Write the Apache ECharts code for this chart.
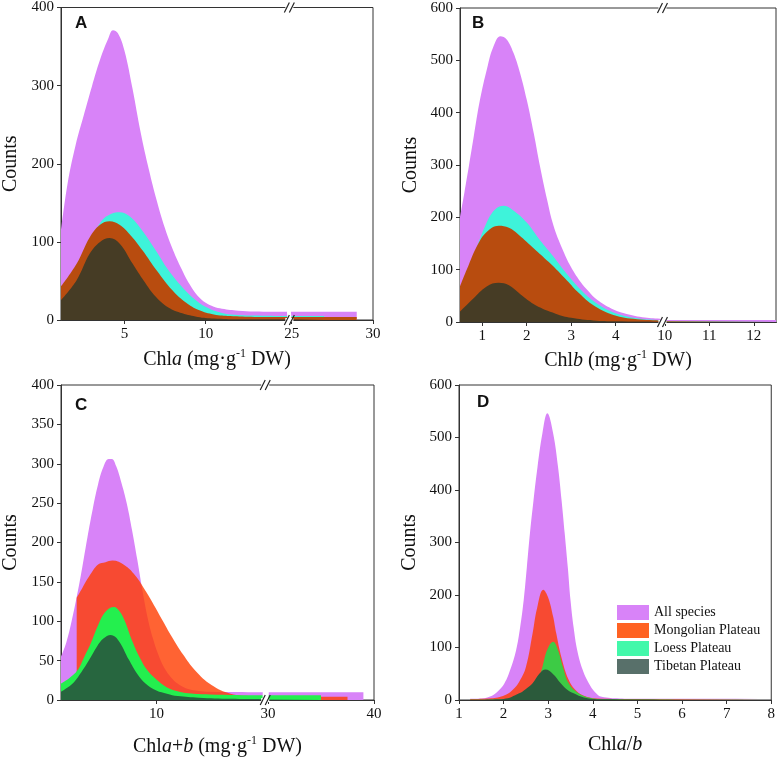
<!DOCTYPE html>
<html><head><meta charset="utf-8">
<script src="https://cdn.jsdelivr.net/npm/echarts@6/dist/echarts.min.js"></script>
<style>html,body{margin:0;padding:0;background:#fff}#c{width:778px;height:759px}</style>
</head><body><div id="c"></div>
<script>
// ---------- DATA: [x, count] ----------
const seriesNames = ['All species', 'Mongolian Plateau', 'Loess Plateau', 'Tibetan Plateau'];

// Panel A  (Chl a)
const aAll   = [[1.1,115],[1.5,174],[2.0,224],[2.5,262],[3.0,299],[3.5,333],[4.0,360],[4.3,371],[4.6,367],[5.0,345],[5.5,296],[6.0,240],[6.5,193],[7.0,152],[7.5,117],[8.0,89],[8.5,66],[9.0,46],[9.5,31],[10,22],[10.5,17],[11,14.5],[12,12],[13,11],[15,10.5],[25,10.5],[29,10.5]];
const aLoess = [[1.1,36],[2.0,66],[2.9,100],[3.6,127],[4.2,136],[4.7,138],[5.3,133],[6.0,117],[6.93,89],[7.7,64],[8.56,42],[9.3,27],[9.98,17],[11,9],[12,6.5],[14,5.5],[15,5],[25,5],[27,5]];
const aMong  = [[1.1,43],[2.06,72],[2.87,106],[3.5,122],[4.09,126.5],[4.7,122],[5.4,108],[6.12,89],[7.0,63],[7.95,38],[8.8,22],[9.57,12.7],[10.5,7],[11.5,5],[13,4],[15,4],[25,4],[29,4]];
const aTib   = [[1.1,25.5],[2.06,51],[2.87,85],[3.5,100],[4.09,105],[4.7,98],[5.51,72],[6.2,50],[6.93,29.7],[7.7,16],[8.56,8.5],[9.5,4],[10.5,2],[12,1],[15,1],[25,1],[27,1]];

// Panel B  (Chl b)
const bAll   = [[0.5,200],[0.6,248],[0.7,298],[0.81,355],[0.95,425],[1.11,485],[1.25,526],[1.41,546],[1.55,540],[1.7,515],[1.85,476],[2.0,425],[2.16,360],[2.3,297],[2.46,233],[2.6,185],[2.8,140],[2.99,106],[3.2,78],[3.4,58],[3.59,42],[3.9,26],[4.19,16.6],[4.6,9],[5,6],[10,4],[12.5,4]];
const bLoess = [[0.5,62],[0.8,125],[1.1,190],[1.3,216],[1.49,222],[1.7,213],[2.0,190],[2.3,156],[2.6,125],[2.9,92],[3.2,63],[3.5,40],[3.9,20],[4.4,8],[5,3],[10,2],[12.5,2]];
const bMong  = [[0.5,68],[0.7,110],[0.9,148],[1.1,172],[1.37,184],[1.6,180],[1.8,168],[2.1,145],[2.4,122],[2.58,108],[2.9,80],[3.18,55],[3.5,32],[3.9,15],[4.4,6],[5,2.5],[10,1.5],[12.5,1.5]];
const bTib   = [[0.5,20],[0.8,45],[1.1,68],[1.37,75],[1.6,70],[1.9,50],[2.2,32],[2.65,16],[3.0,8],[3.5,3],[4,1.5],[5,0.5],[10,0],[12.5,0]];

// Panel C  (Chl a+b)
const cAll   = [[1,55],[1.5,73],[2,100],[2.5,132],[3,168],[3.5,207],[4,243],[4.5,274],[5,296],[5.5,306],[5.8,306],[6.2,297],[6.7,276],[7.2,250],[7.7,216],[8.2,178],[8.7,138],[9.2,103],[9.7,77],[10.2,57],[10.7,42],[11.5,27],[12.2,19],[13,14],[14,11.5],[15,10.5],[20,10],[30,10],[39,10]];
const cMong  = [[2.48,130],[3,142],[3.66,157],[4.5,172],[5.2,175],[5.85,177],[7,171],[8,158],[9,138],[10.5,103],[11.47,80],[12.5,58],[13.66,37.5],[15.2,19],[17,8],[19,5],[20,4.5],[30,4],[37.5,4]];
const cLoess = [[1,21],[1.8,28],[2.57,38],[3.2,55],[3.81,72],[4.5,95],[5.2,112],[6.0,118],[6.5,113],[7,101],[7.72,75],[8.5,52],[9.13,38],[10,26],[11,16],[12,11],[13,8.5],[15,7],[20,6],[30,6],[35,6]];
const cTib   = [[1,10.6],[2.1,21],[2.9,35],[3.66,51],[4.4,68],[5.0,78],[5.69,82.5],[6.4,76],[7.41,51],[8.2,33],[8.97,21],[10,12],[11,8],[12,5],[14,3],[17,1.5],[20,1],[30,0.5],[35,0.5]];

// Panel D  (Chl a/b)
const dAll   = [[1.25,2.5],[1.5,3],[1.68,6],[1.85,15],[2.02,32],[2.15,58],[2.28,95],[2.37,138],[2.45,190],[2.52,252],[2.59,317],[2.67,380],[2.76,444],[2.87,508],[2.98,546],[3.11,508],[3.22,444],[3.3,380],[3.37,317],[3.44,252],[3.5,190],[3.57,138],[3.65,95],[3.77,58],[3.91,32],[4.05,15],[4.2,6],[4.6,3],[5,2.5],[7.75,2.5]];
const dMong  = [[1.25,2],[1.8,4],[2.05,10],[2.2,19],[2.35,35],[2.5,63],[2.65,127],[2.75,175],[2.89,210],[3.0,195],[3.11,159],[3.18,127],[3.3,80],[3.45,40],[3.6,20],[3.8,8],[4.1,3],[5,2],[7.75,2]];
const dLoess = [[1.25,0.5],[2.2,2],[2.5,8],[2.65,18],[2.76,32],[2.87,63],[2.98,96],[3.11,111],[3.22,95],[3.33,63],[3.46,32],[3.68,12.7],[3.9,5],[4.3,1.5],[7.75,0.5]];
const dTib   = [[1.25,0.5],[2.0,2],[2.35,12.7],[2.5,21],[2.65,32],[2.8,50],[2.94,58],[3.1,50],[3.28,32],[3.42,20],[3.57,12.7],[3.8,5],[4.2,1.5],[7.75,0.3]];

// tick labels
const aTicks = [5, 10, 25, 30];
const bTicks = [1, 2, 3, 4, 10, 11, 12];
const cTicks = [10, 30, 40];
const yMaxes = [400, 600, 400, 600];
const yIntervals = [100, 100, 50, 100];
const panelLetters = ['A', 'B', 'C', 'D'];

// ---------- STYLE ----------
const FONT = 'Liberation Serif';
const PURPLE = '#d883f8';
const colAB = {loess:'#3ef3da', mong:'#b84c0f', tib:'#463c25'};
const colC  = {loess:'#24ef4e', mong:'#ff3c00', tib:'#27663f'};
const colD  = {loess:'#3dcb45', mong:'#ff3c00', tib:'#2b5a3b'};
const legendColors = ['#d883f8', '#ff6222', '#42f8aa', '#58706a'];

const chart = echarts.init(document.getElementById('c'), null, {renderer:'canvas'});

function area(name, data, g, color, opacity) {
  return {
    name, type:'line', xAxisIndex:g, yAxisIndex:g, data,
    smooth:0.4, showSymbol:false, symbol:'none', silent:true,
    lineStyle:{width:0, opacity:0},
    itemStyle:{color},
    areaStyle:{color, opacity: opacity == null ? 1 : opacity}
  };
}

const axisLine = {show:true, onZero:false, lineStyle:{color:'#333', width:1}};
const labelStyle = {fontFamily:FONT, fontSize:15, color:'#111'};
const rich = {
  n:{fontFamily:FONT, fontSize:20, color:'#111', lineHeight:24},
  i:{fontFamily:FONT, fontSize:20, fontStyle:'italic', color:'#111', lineHeight:24},
  s:{fontFamily:FONT, fontSize:12, color:'#111', lineHeight:14, verticalAlign:'top'}
};
const breakArea = {show:true, itemStyle:{color:'#fff', borderColor:'#fff', borderWidth:0, opacity:1}, zigzagAmplitude:0.5, zigzagZ:100, expandOnClick:false};

function xAxis(g, min, max, name, nameGap, extra) {
  return Object.assign({
    type:'value', gridIndex:g, min, max,
    name, nameLocation:'middle', nameGap,
    nameTextStyle:{fontFamily:FONT, fontSize:20, color:'#111', rich},
    axisLine, axisTick:{show:true, length:4, lineStyle:{color:'#333'}},
    axisLabel:Object.assign({margin:7}, labelStyle),
    splitLine:{show:false}
  }, extra || {});
}
function yAxis(g, nameGap) {
  return {
    type:'value', gridIndex:g, min:0, max:yMaxes[g], interval:yIntervals[g],
    name:'Counts', nameLocation:'middle', nameGap,
    nameTextStyle:{fontFamily:FONT, fontSize:20, color:'#111'},
    axisLine, axisTick:{show:true, length:4, lineStyle:{color:'#333'}},
    axisLabel:Object.assign({margin:7}, labelStyle),
    splitLine:{show:false}
  };
}

const option = {
  animation:false,
  backgroundColor:'#fff',
  title: [
    {left:75, top:15},
    {left:472, top:15},
    {left:75, top:397},
    {left:477, top:394}
  ].map((p, k) => Object.assign({text:panelLetters[k], padding:0,
      textStyle:{fontFamily:'Liberation Sans', fontWeight:'bold', fontSize:17, color:'#111'}}, p)),
  grid: [
    {left:59, top:6, width:314, height:314, show:true, borderColor:'#333', borderWidth:1, backgroundColor:'transparent'},
    {left:460, top:8, width:316, height:314, show:true, borderColor:'#333', borderWidth:1, backgroundColor:'transparent'},
    {left:59, top:385, width:315, height:315, show:true, borderColor:'#333', borderWidth:1, backgroundColor:'transparent'},
    {left:459, top:385, width:315, height:315, show:true, borderColor:'#333', borderWidth:1, backgroundColor:'transparent'}
  ],
  xAxis: [
    xAxis(0, 1.1, 30, '{n|Chl}{i|a}{n| (mg·g}{s|-1}{n| DW)}', 28, {
      breaks:[{start:15, end:25, gap:'1.5%'}], breakArea,
      axisLabel:Object.assign({margin:7, customValues:aTicks}, labelStyle),
      axisTick:{show:true, length:4, customValues:aTicks, lineStyle:{color:'#333'}}
    }),
    xAxis(1, 0.5, 12.5, '{n|Chl}{i|b}{n| (mg·g}{s|-1}{n| DW)}', 27, {
      breaks:[{start:5, end:10, gap:'1.5%'}], breakArea,
      axisLabel:Object.assign({margin:7, customValues:bTicks}, labelStyle),
      axisTick:{show:true, length:4, customValues:bTicks, lineStyle:{color:'#333'}}
    }),
    xAxis(2, 1, 40, '{n|Chl}{i|a}{n|+}{i|b}{n| (mg·g}{s|-1}{n| DW)}', 35, {
      breaks:[{start:20, end:30, gap:'1.8%'}], breakArea,
      axisLabel:Object.assign({margin:7, customValues:cTicks}, labelStyle),
      axisTick:{show:true, length:4, customValues:cTicks, lineStyle:{color:'#333'}}
    }),
    xAxis(3, 1, 8, '{n|Chl}{i|a}{n|/}{i|b}', 33, {interval:1})
  ],
  yAxis: [yAxis(0, 40), yAxis(1, 39), yAxis(2, 40), yAxis(3, 39)],
  legend: {
    orient:'vertical', left:617, top:605, itemWidth:32, itemHeight:15, itemGap:3,
    icon:'rect', padding:0, selectedMode:false,
    textStyle:{fontFamily:FONT, fontSize:14, color:'#111'},
    data: seriesNames.map((n, k) => ({name:n, icon:'rect', itemStyle:{color:legendColors[k], borderWidth:0}}))
  },
  series: [
    area(seriesNames[0], aAll, 0, PURPLE),
    area(seriesNames[2], aLoess, 0, colAB.loess),
    area(seriesNames[1], aMong, 0, colAB.mong),
    area(seriesNames[3], aTib, 0, colAB.tib),

    area(seriesNames[0], bAll, 1, PURPLE),
    area(seriesNames[2], bLoess, 1, colAB.loess),
    area(seriesNames[1], bMong, 1, colAB.mong),
    area(seriesNames[3], bTib, 1, colAB.tib),

    area(seriesNames[0], cAll, 2, PURPLE),
    area(seriesNames[1], cMong, 2, colC.mong, 0.8),
    area(seriesNames[2], cLoess, 2, colC.loess),
    area(seriesNames[3], cTib, 2, colC.tib),

    area(seriesNames[0], dAll, 3, PURPLE),
    area(seriesNames[1], dMong, 3, colD.mong, 0.8),
    area(seriesNames[2], dLoess, 3, colD.loess),
    area(seriesNames[3], dTib, 3, colD.tib)
  ]
};
chart.setOption(option);

// "//" break marks on the top and bottom frame lines, placed through the axes' own scales
const breakDefs = [[0, 15, 25], [1, 5, 10], [2, 20, 30]];
const marks = [];
breakDefs.forEach(([g, s, e]) => {
  const x1 = chart.convertToPixel({xAxisIndex:g}, s);
  const x2 = chart.convertToPixel({xAxisIndex:g}, e);
  const xc = (x1 + x2) / 2;
  const yb = chart.convertToPixel({yAxisIndex:g}, 0);
  const yt = chart.convertToPixel({yAxisIndex:g}, yMaxes[g]);
  [yb, yt].forEach(y => {
    marks.push({type:'rect', shape:{x:xc-4, y:y-2, width:8, height:4}, style:{fill:'#fff'}, z:200, silent:true});
    [-2.5, 2.5].forEach(d => marks.push({type:'line',
      shape:{x1:xc+d-2.5, y1:y+5, x2:xc+d+2.5, y2:y-5},
      style:{stroke:'#222', lineWidth:1.2}, z:201, silent:true}));
  });
});
chart.setOption({graphic: marks});
</script>
</body></html>
